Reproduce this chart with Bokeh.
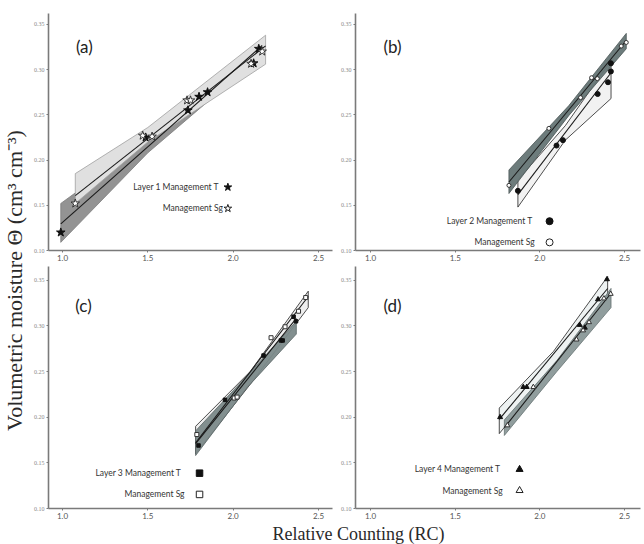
import numpy as np
from bokeh.plotting import figure
from bokeh.layouts import row, column
from bokeh.models import FixedTicker, PrintfTickFormatter, Label
from bokeh.embed import file_html
from bokeh.resources import INLINE

# ---------------- data ----------------
# Panel (a) Layer 1
a_T_x = [0.99, 1.487, 1.735, 1.80, 1.85, 2.12, 2.15]
a_T_y = [0.120, 0.225, 0.255, 0.270, 0.275, 0.307, 0.323]
a_S_x = [1.075, 1.47, 1.525, 1.73, 1.75, 2.105, 2.17]
a_S_y = [0.152, 0.227, 0.226, 0.266, 0.266, 0.3065, 0.320]
a_T_band_x = [0.99, 1.5, 2.17]
a_T_band_lo = [0.109, 0.208, 0.316]
a_T_band_hi = [0.152, 0.222, 0.333]
a_S_band_x = [1.075, 1.5, 2.19]
a_S_band_lo = [0.152, 0.220, 0.306]
a_S_band_hi = [0.185, 0.236, 0.338]

# Panel (b) Layer 2
b_T_x = [1.870, 2.098, 2.136, 2.341, 2.402, 2.419, 2.419]
b_T_y = [0.166, 0.216, 0.222, 0.273, 0.286, 0.298, 0.307]
b_S_x = [1.817, 2.053, 2.240, 2.305, 2.339, 2.48, 2.51]
b_S_y = [0.172, 0.235, 0.269, 0.291, 0.290, 0.326, 0.330]
b_T_band_x = [1.87, 2.15, 2.42]
b_T_band_lo = [0.148, 0.222, 0.268]
b_T_band_hi = [0.178, 0.238, 0.310]
b_S_band_x = [1.817, 2.17, 2.51]
b_S_band_lo = [0.163, 0.249, 0.323]
b_S_band_hi = [0.189, 0.260, 0.340]

# Panel (c) Layer 3
c_T_x = [1.797, 1.952, 2.178, 2.280, 2.290, 2.354, 2.368]
c_T_y = [0.169, 0.219, 0.2675, 0.284, 0.284, 0.310, 0.305]
c_S_x = [1.787, 2.006, 2.023, 2.222, 2.304, 2.383, 2.425]
c_S_y = [0.181, 0.221, 0.222, 0.287, 0.299, 0.316, 0.331]
c_T_band_x = [1.78, 2.08, 2.37]
c_T_band_lo = [0.158, 0.232, 0.291]
c_T_band_hi = [0.185, 0.245, 0.305]
c_S_band_x = [1.78, 2.10, 2.44]
c_S_band_lo = [0.160, 0.236, 0.320]
c_S_band_hi = [0.190, 0.250, 0.338]

# Panel (d) Layer 4
d_T_x = [1.765, 1.902, 1.922, 2.235, 2.265, 2.343, 2.396]
d_T_y = [0.200, 0.233, 0.233, 0.301, 0.298, 0.329, 0.351]
d_S_x = [1.808, 1.961, 2.216, 2.255, 2.29, 2.378, 2.418]
d_S_y = [0.191, 0.233, 0.285, 0.295, 0.304, 0.330, 0.335]
d_T_band_x = [1.76, 2.08, 2.40]
d_T_band_lo = [0.182, 0.255, 0.334]
d_T_band_hi = [0.210, 0.272, 0.354]
d_S_band_x = [1.79, 2.10, 2.42]
d_S_band_lo = [0.180, 0.250, 0.320]
d_S_band_hi = [0.197, 0.262, 0.341]

x_ticks = [1.0, 1.5, 2.0, 2.5]
y_ticks = [0.10, 0.15, 0.20, 0.25, 0.30, 0.35]
panel_letters = ["(a)", "(b)", "(c)", "(d)"]
legend_T = ["Layer 1 Management T", "Layer 2 Management T",
            "Layer  3 Management T", "Layer  4 Management T"]
legend_S = "Management Sg"
y_title = "Volumetric moisture \u0398 (cm\u00b3 cm\u207b\u00b3)"
x_title = "Relative Counting (RC)"

SERIF = "Liberation Serif"
SANS = "Lato"


def make_panel(w, h, xr, yr, bl, br, bt, bb):
    p = figure(width=w, height=h, x_range=xr, y_range=yr,
               output_backend="svg", toolbar_location=None,
               min_border_left=bl, min_border_right=br,
               min_border_top=bt, min_border_bottom=bb)
    p.outline_line_color = None
    p.grid.visible = False
    for ax in (p.xaxis, p.yaxis):
        ax.axis_line_color = "#7a7a7a"
        ax.axis_line_width = 1.6
        ax.major_tick_line_color = "#7a7a7a"
        ax.major_tick_out = 2
        ax.major_tick_in = 0
        ax.minor_tick_line_color = None
        ax.major_label_standoff = 2
    p.xaxis.ticker = FixedTicker(ticks=x_ticks)
    p.xaxis.formatter = PrintfTickFormatter(format="%.1f")
    p.xaxis.major_label_text_font = SANS
    p.xaxis.major_label_text_font_size = "8px"
    p.xaxis.major_label_text_color = "#555555"
    p.yaxis.ticker = FixedTicker(ticks=y_ticks)
    p.yaxis.formatter = PrintfTickFormatter(format="%.2f")
    p.yaxis.major_label_text_font = SERIF
    p.yaxis.major_label_text_font_size = "6px"
    p.yaxis.major_label_text_color = "#8a8a8a"
    return p


def band(p, bx, lo, hi, fill, line, alpha=1.0, lw=0.8):
    xs = list(bx) + list(bx)[::-1]
    ys = list(lo) + list(hi)[::-1]
    p.patch(xs, ys, fill_color=fill, fill_alpha=alpha, line_color=line, line_width=lw)


def fit_line(p, x, y, x0, x1):
    k, b = np.polyfit(x, y, 1)
    xx = np.array([x0, x1])
    p.line(xx, k * xx + b, line_color="#1a1a1a", line_width=1.1)


def add_texts(p, letter, lx, ly, lgT, lgTx, lgTy, lgSx, lgSy, mx, marker, sizeT, sizeS):
    p.add_layout(Label(x=lx, y=ly, text=letter, text_font=SANS, text_font_size="17px",
                       text_color="#222222", text_align="center", text_baseline="middle"))
    p.add_layout(Label(x=lgTx, y=lgTy, text=lgT, text_font=SANS, text_font_size="8.5px",
                       text_color="#333333", text_align="right", text_baseline="middle"))
    p.add_layout(Label(x=lgSx, y=lgSy, text=legend_S, text_font=SANS, text_font_size="8.5px",
                       text_color="#333333", text_align="right", text_baseline="middle"))
    p.scatter([mx], [lgTy], marker=marker, size=sizeT, fill_color="#111111", line_color="#111111")
    p.scatter([mx], [lgSy], marker=marker, size=sizeS, fill_color="white", line_color="#222222",
              line_width=1.0)


# ---------------- panel (a) ----------------
pa = make_panel(305, 266, (0.918, 2.582), (0.10, 0.362), 17, 3, 13, 16)
band(pa, a_T_band_x, a_T_band_lo, a_T_band_hi, "#939393", "#7a7a7a")
band(pa, a_S_band_x, a_S_band_lo, a_S_band_hi, "#e0e0e0", "#a0a0a0")
fit_line(pa, a_T_x, a_T_y, a_T_band_x[0], a_T_band_x[-1])
fit_line(pa, a_S_x, a_S_y, a_S_band_x[0], a_S_band_x[-1])
pa.scatter(a_T_x, a_T_y, marker="star", size=9, fill_color="#111111", line_color="#111111")
pa.scatter(a_S_x, a_S_y, marker="star", size=9, fill_color="white", line_color="#333333")
add_texts(pa, panel_letters[0], 1.128, 0.3257, legend_T[0], 1.917, 0.170, 1.94, 0.1465,
          1.969, "star", 8, 8)

# ---------------- panel (b) ----------------
pb = make_panel(309, 266, (0.911, 2.594), (0.10, 0.362), 20, 4, 13, 16)
band(pb, b_T_band_x, b_T_band_lo, b_T_band_hi, "#f2f2f2", "#222222")
band(pb, b_S_band_x, b_S_band_lo, b_S_band_hi, "#657575", "#4a5555", alpha=0.95)
fit_line(pb, b_T_x, b_T_y, b_T_band_x[0], b_T_band_x[-1])
fit_line(pb, b_S_x, b_S_y, b_S_band_x[0], b_S_band_x[-1])
pb.scatter(b_T_x, b_T_y, marker="circle", size=5, fill_color="#111111", line_color="#111111")
pb.scatter(b_S_x, b_S_y, marker="circle", size=4, fill_color="white", line_color="#333333")
add_texts(pb, panel_letters[1], 1.13, 0.3257, legend_T[1], 1.957, 0.1324, 1.969, 0.109,
          2.057, "circle", 7, 7)

# ---------------- panel (c) ----------------
pc = make_panel(305, 256, (0.918, 2.582), (0.10, 0.365), 17, 3, 0, 14)
band(pc, c_S_band_x, c_S_band_lo, c_S_band_hi, "#eeeeee", "#222222")
band(pc, c_T_band_x, c_T_band_lo, c_T_band_hi, "#7b8989", "#5a6666", alpha=0.95)
fit_line(pc, c_T_x, c_T_y, c_T_band_x[0], c_T_band_x[-1])
fit_line(pc, c_S_x, c_S_y, c_S_band_x[0], c_S_band_x[-1])
pc.scatter(c_T_x, c_T_y, marker="square", size=3.5, fill_color="#111111", line_color="#111111")
pc.scatter(c_S_x, c_S_y, marker="square", size=4, fill_color="white", line_color="#333333")
add_texts(pc, panel_letters[2], 1.123, 0.3226, legend_T[2], 1.709, 0.1387, 1.715, 0.1154,
          1.803, "square", 6.5, 6.5)

# ---------------- panel (d) ----------------
pd_ = make_panel(309, 256, (0.911, 2.594), (0.10, 0.365), 20, 4, 0, 14)
band(pd_, d_T_band_x, d_T_band_lo, d_T_band_hi, "#eef2f2", "#222222")
band(pd_, d_S_band_x, d_S_band_lo, d_S_band_hi, "#8a9898", "#667272", alpha=0.95)
fit_line(pd_, d_T_x, d_T_y, d_T_band_x[0], d_T_band_x[-1])
fit_line(pd_, d_S_x, d_S_y, d_S_band_x[0], d_S_band_x[-1])
pd_.scatter(d_T_x, d_T_y, marker="triangle", size=5, fill_color="#111111", line_color="#111111")
pd_.scatter(d_S_x, d_S_y, marker="triangle", size=5, fill_color="white", line_color="#333333")
add_texts(pd_, panel_letters[3], 1.13, 0.3226, legend_T[3], 1.78, 0.1428, 1.78, 0.1197,
          1.88, "triangle", 7, 7)


def text_fig(w, h, txt, size, angle, cx, cy):
    f = figure(width=w, height=h, x_range=(0, 1), y_range=(0, 1),
               output_backend="svg", toolbar_location=None,
               min_border_left=0, min_border_right=0, min_border_top=0, min_border_bottom=0)
    f.axis.visible = False
    f.grid.visible = False
    f.outline_line_color = None
    f.add_layout(Label(x=cx, y=cy, text=txt, text_font=SERIF, text_font_size=size,
                       text_color="#2a2a2a", angle=angle, text_align="center",
                       text_baseline="middle"))
    return f


ylab = text_fig(30, 544, y_title, "22px", np.pi / 2, 0.45, 1 - 280 / 544)
xlab = text_fig(614, 22, x_title, "18px", 0, (358 - 30) / 614, 0.5)

layout = row(ylab, column(row(pa, pb), row(pc, pd_), xlab))

open("out.html", "w").write(file_html(layout, INLINE))
